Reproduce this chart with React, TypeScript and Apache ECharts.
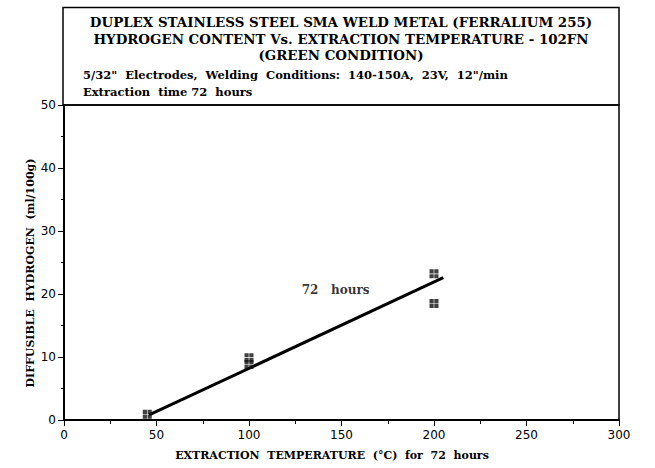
import React, { useEffect, useRef } from "react";
import * as echarts from "echarts";

const titleLines = [
  "DUPLEX STAINLESS STEEL SMA WELD METAL (FERRALIUM 255)",
  "HYDROGEN CONTENT Vs. EXTRACTION TEMPERATURE - 102FN",
  "(GREEN CONDITION)",
];
const subLines = [
  '5/32"  Electrodes,  Welding  Conditions:  140-150A,  23V,  12"/min',
  "Extraction  time 72  hours",
];
const xAxisName = "EXTRACTION  TEMPERATURE  (°C)  for  72  hours";
const yAxisName = "DIFFUSIBLE  HYDROGEN  (ml/100g)";

const measuredPoints: [number, number][] = [
  [45, 0.9],
  [100, 9.9],
  [100, 8.8],
  [200, 23.2],
  [200, 18.5],
];
const fitLine: [number, number][] = [
  [46, 0.8],
  [205, 22.6],
];
const annotation = { text: "72   hours", at: [128.5, 20.6] as [number, number] };

const SERIF = "'DejaVu Serif', 'Liberation Serif', serif";
const SANS = "'DejaVu Sans', sans-serif";

const markerPath =
  "path://M0,0H4.3V4.3H0Z M4.9,0H9.2V4.3H4.9Z M0,4.9H4.3V9.2H0Z M4.9,4.9H9.2V9.2H4.9Z";

export default function App() {
  const ref = useRef<HTMLDivElement>(null);
  useEffect(() => {
    document.body.style.margin = "0";
    const chart = echarts.init(ref.current!, null, { renderer: "svg" });
    chart.setOption({
      animation: false,
      backgroundColor: "#fff",
      grid: {
        left: 64,
        right: 36,
        top: 105,
        bottom: 48,
        show: true,
        borderColor: "#000",
        borderWidth: 1.5,
      },
      xAxis: {
        type: "value",
        min: 0,
        max: 300,
        interval: 50,
        axisLine: { show: true, lineStyle: { color: "#000", width: 2 } },
        axisTick: { show: true, inside: false, length: 6, lineStyle: { color: "#000", width: 1 } },
        minorTick: { show: true, splitNumber: 2, length: 4, lineStyle: { color: "#000", width: 1 } },
        splitLine: { show: false },
        axisLabel: { color: "#000", fontFamily: SANS, fontSize: 12, margin: 9 },
      },
      yAxis: {
        type: "value",
        min: 0,
        max: 50,
        interval: 10,
        axisLine: { show: true, lineStyle: { color: "#000", width: 2 } },
        axisTick: { show: true, inside: false, length: 6, lineStyle: { color: "#000", width: 1 } },
        minorTick: { show: true, splitNumber: 2, length: 3, lineStyle: { color: "#000", width: 1 } },
        splitLine: { show: false },
        axisLabel: { color: "#000", fontFamily: SANS, fontSize: 12, margin: 8 },
      },
      series: [
        {
          type: "line",
          data: fitLine,
          showSymbol: false,
          symbol: "none",
          lineStyle: { color: "#000", width: 3 },
          z: 2,
        },
        {
          type: "scatter",
          data: measuredPoints,
          symbol: markerPath,
          symbolSize: 9,
          itemStyle: { color: "#111" },
          z: 3,
        },
        {
          type: "scatter",
          data: [annotation.at],
          symbolSize: 0,
          label: {
            show: true,
            position: "right",
            distance: 0,
            formatter: annotation.text,
            color: "#000",
            fontFamily: SERIF,
            fontWeight: "bold",
            fontSize: 12,
          },
          z: 4,
        },
      ],
      graphic: [
        {
          type: "rect",
          shape: { x: 63, y: 7.5, width: 556, height: 97.5 },
          style: { fill: "none", stroke: "#000", lineWidth: 1.5 },
        },
        ...titleLines.map((t, i) => ({
          type: "text",
          x: 341,
          y: [22, 38.5, 55][i],
          style: {
            text: t,
            align: "center",
            verticalAlign: "middle",
            fontFamily: SERIF,
            fontWeight: "bold",
            fontSize: 13.4,
            fill: "#000",
          },
        })),
        ...subLines.map((t, i) => ({
          type: "text",
          x: 83,
          y: [75, 91.5][i],
          style: {
            text: t,
            align: "left",
            verticalAlign: "middle",
            fontFamily: SERIF,
            fontWeight: "bold",
            fontSize: 11.5,
            fill: "#000",
          },
        })),
        {
          type: "text",
          x: 332,
          y: 455,
          style: {
            text: xAxisName,
            align: "center",
            verticalAlign: "middle",
            fontFamily: SERIF,
            fontWeight: "bold",
            fontSize: 11,
            fill: "#000",
          },
        },
        {
          type: "text",
          x: 30,
          y: 273,
          rotation: Math.PI / 2,
          style: {
            text: yAxisName,
            align: "center",
            verticalAlign: "middle",
            fontFamily: SERIF,
            fontWeight: "bold",
            fontSize: 11,
            fill: "#000",
          },
        },
      ],
    });
    return () => chart.dispose();
  }, []);
  return <div ref={ref} style={{ width: 655, height: 468 }} />;
}
